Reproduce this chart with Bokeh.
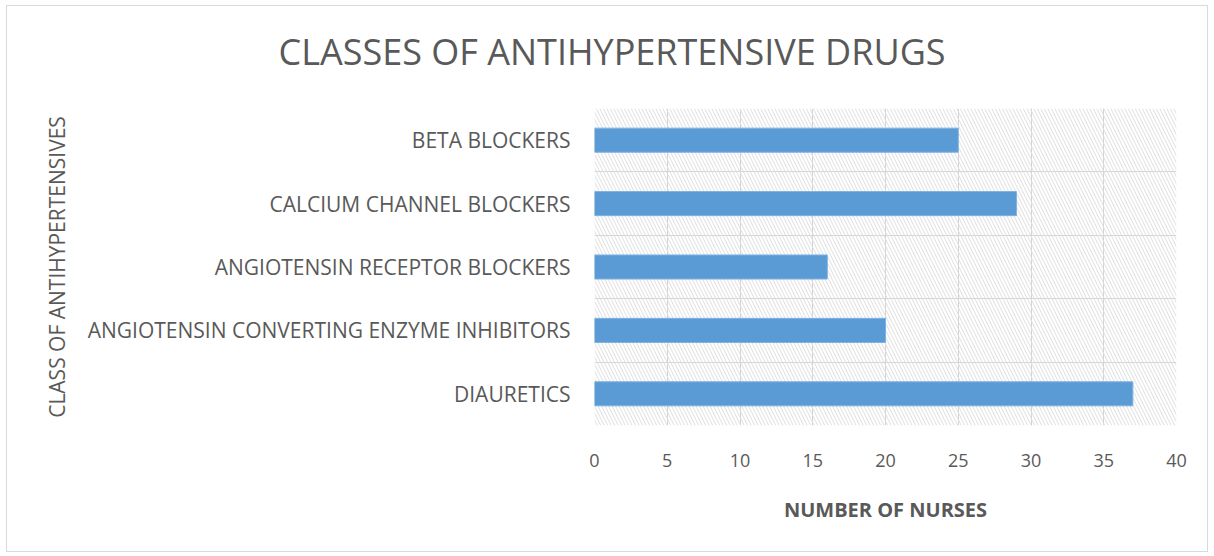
from bokeh.plotting import figure
from bokeh.models import FactorRange, Range1d, FixedTicker, BoxAnnotation, Title
from bokeh.embed import file_html
from bokeh.resources import INLINE

categories = ["DIAURETICS", "ANGIOTENSIN CONVERTING ENZYME INHIBITORS",
              "ANGIOTENSIN RECEPTOR BLOCKERS", "CALCIUM CHANNEL BLOCKERS", "BETA BLOCKERS"]
nurses = [37, 20, 16, 29, 25]
x_ticks = [0, 5, 10, 15, 20, 25, 30, 35, 40]

FONT = "Open Sans"
GRAY = "#595959"

p = figure(width=1202, height=547, y_range=FactorRange(*categories), x_range=Range1d(0, 40),
           output_backend="svg", toolbar_location=None,
           min_border_left=587, min_border_right=33, min_border_top=102, min_border_bottom=128)
p.styles = {"margin": "5px 0 0 6px", "border": "1px solid #d9d9d9"}
p.title_location = None

# spacer (nearest to the frame), then the main title above it
p.add_layout(Title(text="\u00a0", text_font=FONT, text_font_size="18px", standoff=0), "above")
p.add_layout(Title(text="CLASSES OF ANTIHYPERTENSIVE DRUGS", align="left", offset=-316,
                   text_font=FONT, text_font_size="36px", text_font_style="normal",
                   text_color=GRAY, vertical_align="top", standoff=10), "above")

p.add_layout(BoxAnnotation(fill_alpha=0, line_alpha=0,
                           hatch_pattern="left_diagonal_line", hatch_color="#dedede",
                           hatch_scale=7, hatch_weight=1, hatch_alpha=1, level="underlay"))

p.hbar(y=categories, right=nurses, left=0, height=0.38, fill_color="#5b9bd5",
       line_color="#7fb2e2", line_width=1)

p.outline_line_color = None
p.xgrid.ticker = FixedTicker(ticks=x_ticks)
p.xgrid.grid_line_color = "#d4d4d4"
p.ygrid.ticker = FixedTicker(ticks=[0, 1, 2, 3, 4, 5])
p.ygrid.grid_line_color = "#d4d4d4"

p.xaxis.ticker = FixedTicker(ticks=x_ticks)
for ax in (p.xaxis[0], p.yaxis[0]):
    ax.axis_line_color = None
    ax.major_tick_line_color = None
    ax.minor_tick_line_color = None
    ax.major_label_text_color = GRAY
    ax.major_label_text_font = FONT
    ax.axis_label_text_color = GRAY
    ax.axis_label_text_font = FONT

p.xaxis.major_label_text_font_size = "18px"
p.xaxis.major_label_standoff = 22
p.xaxis.axis_label = "NUMBER OF NURSES"
p.xaxis.axis_label_text_font_size = "20px"
p.xaxis.axis_label_text_font_style = "bold"
p.xaxis.axis_label_standoff = 26

p.yaxis.major_label_text_font_size = "21px"
p.yaxis.major_label_standoff = 18
p.yaxis.axis_label = "CLASS OF ANTIHYPERTENSIVES"
p.yaxis.axis_label_text_font_size = "21px"
p.yaxis.axis_label_text_font_style = "normal"
p.yaxis.axis_label_standoff = 14

open("out.html", "w").write(file_html(p, INLINE))
